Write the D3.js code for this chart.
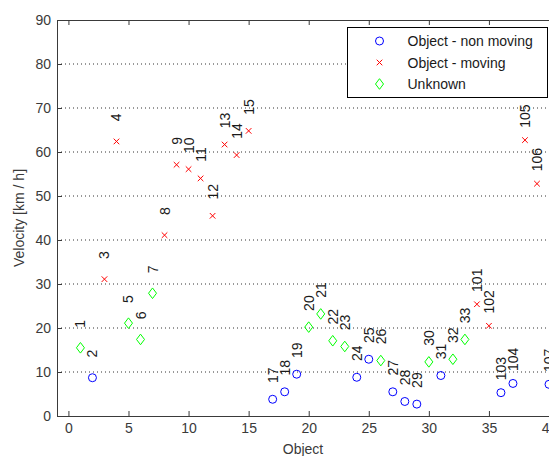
<!DOCTYPE html>
<html>
<head>
<meta charset="utf-8">
<script src="https://cdn.jsdelivr.net/npm/d3@7"></script>
<style>
  body { margin: 0; background: #fff; }
  text { font-family: "Liberation Sans", Arial, Helvetica, sans-serif; }
</style>
</head>
<body>
<div id="chart"></div>
<script>
// Object - non moving (blue circles)
const nonMovingLabels = ["2", "17", "18", "19", "24", "25", "27", "28", "29", "31", "103", "104", "107"];
const nonMovingX = [2, 17, 18, 19, 24, 25, 27, 28, 29, 31, 36, 37, 40];
const nonMovingVel = [8.7, 3.8, 5.5, 9.5, 8.8, 12.9, 5.5, 3.3, 2.7, 9.2, 5.3, 7.4, 7.2];

// Object - moving (red crosses)
const movingLabels = ["3", "4", "8", "9", "10", "11", "12", "13", "14", "15", "101", "102", "105", "106"];
const movingX = [3, 4, 8, 9, 10, 11, 12, 13, 14, 15, 34, 35, 38, 39];
const movingVel = [31.1, 62.4, 41.1, 57.1, 56.1, 54.0, 45.5, 61.7, 59.3, 64.8, 25.4, 20.5, 62.7, 52.8];

// Unknown (green diamonds)
const unknownLabels = ["1", "5", "6", "7", "20", "21", "22", "23", "26", "30", "32", "33"];
const unknownX = [1, 5, 6, 7, 20, 21, 22, 23, 26, 30, 32, 33];
const unknownVel = [15.5, 21.1, 17.4, 27.9, 20.2, 23.2, 17.1, 15.8, 12.6, 12.3, 12.9, 17.4];

const xTicks = [0, 5, 10, 15, 20, 25, 30, 35, 40];
const yTicks = [0, 10, 20, 30, 40, 50, 60, 70, 80, 90];
const legendNames = ["Object - non moving", "Object - moving", "Unknown"];

const width = 549, height = 456;
const margin = { left: 57, right: 0, top: 20, bottom: 40 };
const axisColor = "#3a3a3a";
const fontSize = "14px";

const svg = d3.select("#chart").append("svg")
  .attr("width", width)
  .attr("height", height);

const x = d3.scaleLinear().domain([-0.95, 40]).range([margin.left, width - margin.right]);
const y = d3.scaleLinear().domain([0, 90]).range([height - margin.bottom, margin.top]);

// horizontal dotted grid
svg.append("g")
  .selectAll("line")
  .data(yTicks.slice(1, -1))
  .join("line")
  .attr("x1", x.range()[0])
  .attr("x2", x.range()[1])
  .attr("y1", d => y(d))
  .attr("y2", d => y(d))
  .attr("stroke", "#333")
  .attr("stroke-width", 1)
  .attr("stroke-dasharray", "1,3");

// axes, MATLAB style: ticks inside
const xAxis = svg.append("g")
  .attr("transform", `translate(0,${y(0)})`)
  .call(d3.axisBottom(x).tickValues(xTicks).tickSize(-5).tickPadding(7).tickSizeOuter(0));
const xAxisTop = svg.append("g")
  .attr("transform", `translate(0,${y(90)})`)
  .call(d3.axisTop(x).tickValues(xTicks).tickSize(-5).tickFormat("").tickSizeOuter(0));
const yAxis = svg.append("g")
  .attr("transform", `translate(${x.range()[0]},0)`)
  .call(d3.axisLeft(y).tickValues(yTicks).tickSize(-5).tickPadding(6).tickSizeOuter(0));

[xAxis, xAxisTop, yAxis].forEach(g => {
  g.select(".domain").attr("stroke", axisColor);
  g.selectAll(".tick line").attr("stroke", axisColor);
  g.selectAll(".tick text").attr("fill", axisColor).style("font-size", fontSize);
});

// axis titles
svg.append("text")
  .attr("x", (x.range()[0] + x.range()[1]) / 2)
  .attr("y", 454)
  .attr("text-anchor", "middle")
  .attr("fill", axisColor)
  .style("font-size", fontSize)
  .text("Object");

svg.append("text")
  .attr("transform", `translate(19,${(y(0) + y(90)) / 2}) rotate(-90)`)
  .attr("text-anchor", "middle")
  .attr("dominant-baseline", "central")
  .attr("fill", axisColor)
  .style("font-size", fontSize)
  .text("Velocity [km / h]");

function toPoints(labels, xs, vs) {
  return labels.map((l, i) => ({ label: l, x: xs[i], v: vs[i] }));
}

const nonMoving = toPoints(nonMovingLabels, nonMovingX, nonMovingVel);
const moving = toPoints(movingLabels, movingX, movingVel);
const unknown = toPoints(unknownLabels, unknownX, unknownVel);

const diamond = "M0,-5.3L4,0L0,5.3L-4,0Z";
const cross = "M-2.8,-2.8L2.8,2.8M-2.8,2.8L2.8,-2.8";

svg.append("g").selectAll("circle")
  .data(nonMoving)
  .join("circle")
  .attr("cx", d => x(d.x))
  .attr("cy", d => y(d.v))
  .attr("r", 4)
  .style("fill", "none")
  .style("stroke", "#0000ff");

svg.append("g").selectAll("path")
  .data(moving)
  .join("path")
  .attr("transform", d => `translate(${x(d.x)},${y(d.v)})`)
  .attr("d", cross)
  .style("fill", "none")
  .style("stroke", "#ff0000");

svg.append("g").selectAll("path")
  .data(unknown)
  .join("path")
  .attr("transform", d => `translate(${x(d.x)},${y(d.v)})`)
  .attr("d", diamond)
  .style("fill", "none")
  .style("stroke", "#00ff00");

// rotated object labels above each marker
svg.append("g").selectAll("text")
  .data(nonMoving.concat(moving, unknown))
  .join("text")
  .attr("transform", d => `translate(${x(d.x)},${y(d.v) - 24}) rotate(-90)`)
  .attr("text-anchor", "middle")
  .attr("dominant-baseline", "central")
  .attr("fill", "#1a1a1a")
  .style("font-size", fontSize)
  .text(d => d.label);

// legend
const legend = svg.append("g").attr("transform", "translate(347.5,27.5)");
legend.append("rect")
  .attr("width", 200)
  .attr("height", 70)
  .style("fill", "#fff")
  .style("stroke", "#000");

const legendMarks = [
  { name: legendNames[0], kind: "circle", color: "#0000ff" },
  { name: legendNames[1], kind: "cross", color: "#ff0000" },
  { name: legendNames[2], kind: "diamond", color: "#00ff00" }
];

legendMarks.forEach((m, i) => {
  const row = legend.append("g").attr("transform", `translate(0,${13.5 + i * 21.5})`);
  if (m.kind === "circle") {
    row.append("circle").attr("cx", 32).attr("r", 4);
  } else {
    row.append("path").attr("transform", "translate(32,0)").attr("d", m.kind === "cross" ? cross : diamond);
  }
  row.select(m.kind === "circle" ? "circle" : "path")
    .style("fill", "none")
    .style("stroke", m.color);
  row.append("text")
    .attr("x", 60)
    .attr("dominant-baseline", "central")
    .attr("fill", "#1a1a1a")
    .style("font-size", fontSize)
    .text(m.name);
});
</script>
</body>
</html>
